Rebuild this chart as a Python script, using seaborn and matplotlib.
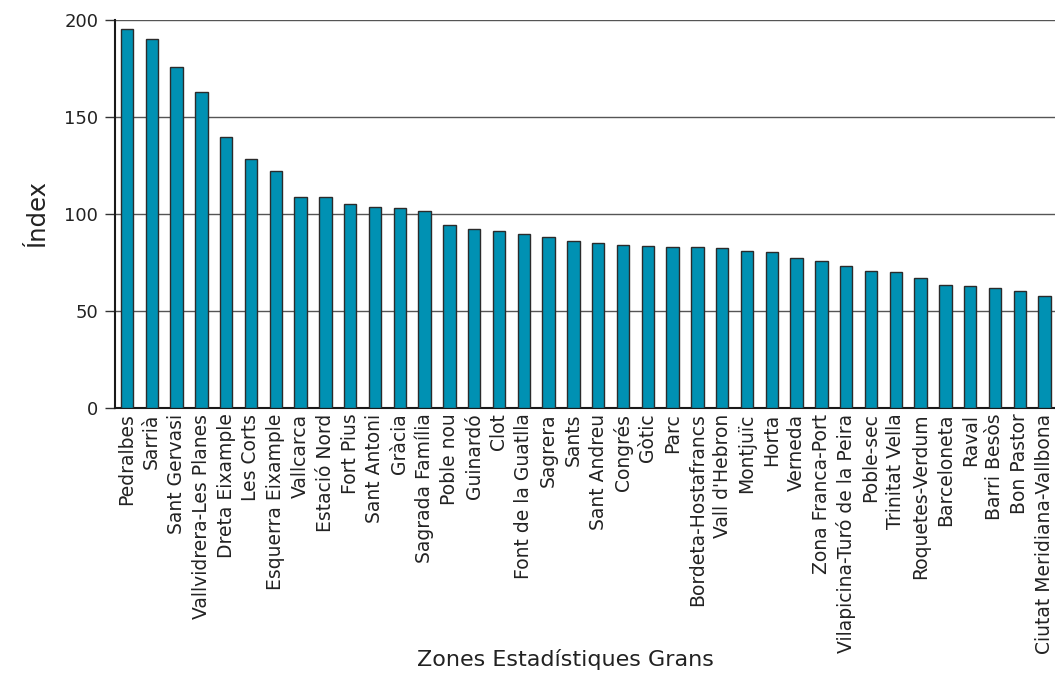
import matplotlib
matplotlib.use("Agg")
import matplotlib.pyplot as plt
import seaborn as sns
import pandas as pd

zones = ["Pedralbes", "Sarrià", "Sant Gervasi", "Vallvidrera-Les Planes", "Dreta Eixample",
         "Les Corts", "Esquerra Eixample", "Vallcarca", "Estació Nord", "Fort Pius",
         "Sant Antoni", "Gràcia", "Sagrada Família", "Poble nou", "Guinardó", "Clot",
         "Font de la Guatlla", "Sagrera", "Sants", "Sant Andreu", "Congrés", "Gòtic", "Parc",
         "Bordeta-Hostafrancs", "Vall d'Hebron", "Montjuïc", "Horta", "Verneda",
         "Zona Franca-Port", "Vilapicina-Turó de la Peira", "Poble-sec", "Trinitat Vella",
         "Roquetes-Verdum", "Barceloneta", "Raval", "Barri Besòs", "Bon Pastor",
         "Ciutat Meridiana-Vallbona"]
index_values = [195.3, 190.1, 175.7, 162.8, 139.6, 128.4, 122.3, 109.0, 109.0, 105.1,
                103.4, 103.0, 101.3, 94.1, 92.4, 91.2, 89.8, 88.1, 86.0, 84.8, 84.1, 83.6,
                83.1, 82.9, 82.7, 80.9, 80.5, 77.3, 76.0, 73.1, 70.6, 70.2, 66.8, 63.2, 63.0,
                61.6, 60.3, 57.9]
y_ticks = [0, 50, 100, 150, 200]

df = pd.DataFrame({"zona": zones, "index": index_values})

sns.set_style("white")
plt.rcParams["font.family"] = ["DejaVu Sans"]
text_color = "#222222"

fig = plt.figure(figsize=(10.55, 6.73), dpi=100)
ax = fig.add_axes([0.109, 0.3938, 0.891, 0.5765])

sns.barplot(data=df, x="zona", y="index", order=zones, color="#0091b3",
            edgecolor="#2b2b2b", linewidth=1.0, width=0.5, saturation=1, ax=ax, zorder=3)

ax.set_ylim(0, 200)
ax.set_xlim(-0.48, 37.42)
ax.set_yticks(y_ticks)
ax.yaxis.grid(True, color="#555555", linewidth=1.0, zorder=0)
ax.xaxis.grid(False)
ax.set_axisbelow(True)

for s in ["top", "right"]:
    ax.spines[s].set_visible(False)
for s in ["left", "bottom"]:
    ax.spines[s].set_color("#1a1a1a")
    ax.spines[s].set_linewidth(1.5)

ax.tick_params(axis="y", length=7, width=1, color="#333333", labelsize=13,
               labelcolor=text_color, pad=5, left=True)
ax.tick_params(axis="x", length=0, labelsize=13.5, labelcolor=text_color, pad=4, rotation=90)

ax.set_ylabel("Índex", fontsize=17.5, color=text_color, labelpad=11)
ax.set_xlabel("Zones Estadístiques Grans", fontsize=16, color=text_color)
ax.xaxis.set_label_coords(0.479, -0.649)
ax.xaxis.label.set_va("center")

fig.savefig("out.png", dpi=100)
